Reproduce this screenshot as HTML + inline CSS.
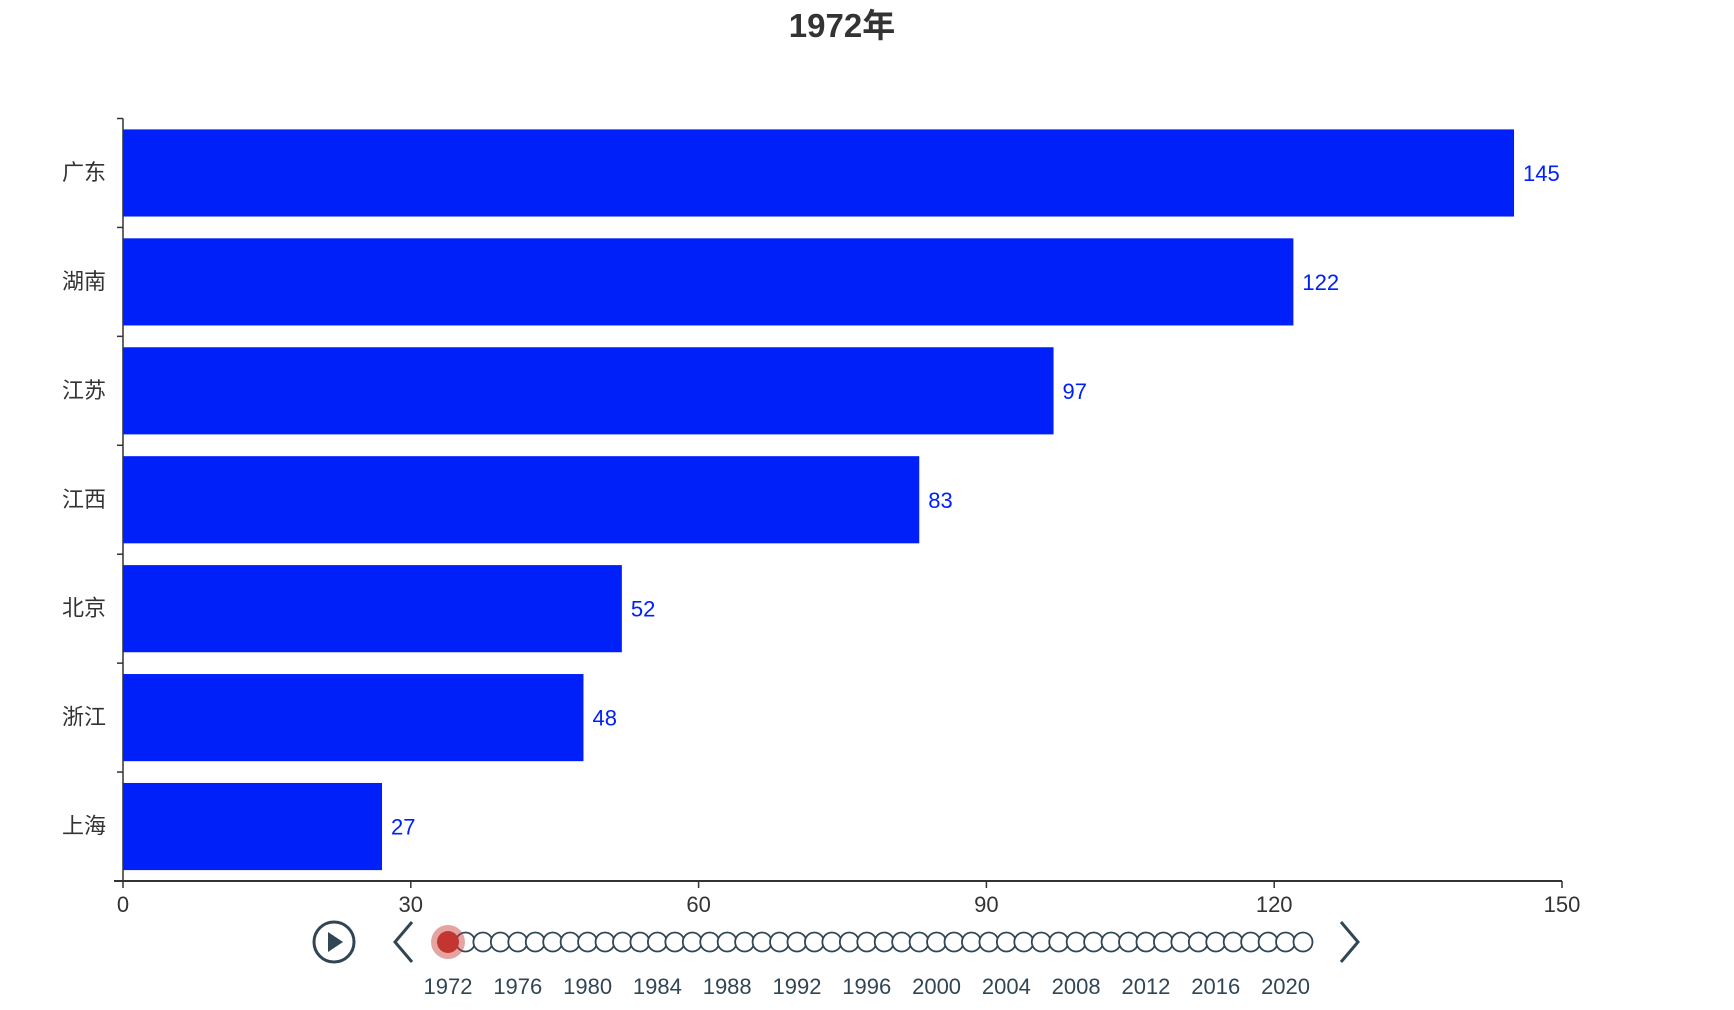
<!DOCTYPE html>
<html><head><meta charset="utf-8"><style>
html,body{margin:0;padding:0;background:#fff;}
svg{display:block;font-family:"Liberation Sans","Noto Sans CJK SC",sans-serif;}
</style></head><body>
<svg id="chart" width="1734" height="1010" viewBox="0 0 1734 1010" xmlns="http://www.w3.org/2000/svg">
<text x="842" y="37" text-anchor="middle" font-size="33" font-weight="bold" fill="#333">1972年</text>
<g id="bars"></g>
<g id="axes"></g>
<g id="timeline"></g>
</svg>
<script>
const categories = ["广东","湖南","江苏","江西","北京","浙江","上海"];
const values = [145,122,97,83,52,48,27];
const xTicks = [0,30,60,90,120,150];
const years = [];
for (let y = 1972; y <= 2021; y++) years.push(y);
const yearLabels = [1972,1976,1980,1984,1988,1992,1996,2000,2004,2008,2012,2016,2020];

const NS = "http://www.w3.org/2000/svg";
const X0 = 123, X1 = 1562, Y0 = 118.5, Y1 = 881, XMAX = 150;
const xs = v => X0 + (v / XMAX) * (X1 - X0);
const band = (Y1 - Y0) / categories.length;
const ys = i => Y0 + i * band;
function mk(tag, attrs, parent) {
  const e = document.createElementNS(NS, tag);
  for (const k in attrs) e.setAttribute(k, attrs[k]);
  parent.appendChild(e);
  return e;
}
const bars = document.getElementById('bars');
const axes = document.getElementById('axes');
categories.forEach((c, i) => {
  const r = mk('rect', {x: X0, y: ys(i) + band * 0.1, width: xs(values[i]) - X0, height: band * 0.8, fill: '#0020fa'}, bars);
  
  
  const t = mk('text', {x: xs(values[i]) + 9, y: ys(i) + band / 2 + 8, 'font-size': 22, fill: '#0020fa'}, bars);
  t.textContent = values[i];
  
  
  const l = mk('text', {x: 106, y: ys(i) + band / 2 + 7, 'font-size': 22, fill: '#333', 'text-anchor': 'end'}, axes);
  l.textContent = c;
  
  
});
for (let i = 0; i <= categories.length; i++) {
  const tk = mk('line', {x1: X0 - 6, x2: X0, y1: ys(i), y2: ys(i), stroke: '#333', 'stroke-width': 1.5}, axes);
  
  
}
const ya = mk('line', {x1: X0, x2: X0, y1: Y0, y2: Y1, stroke: '#333', 'stroke-width': 1.5}, axes);


const xa = mk('line', {x1: X0 - 9, x2: X1, y1: Y1, y2: Y1, stroke: '#333', 'stroke-width': 2}, axes);


xTicks.forEach(v => {
  const tk = mk('line', {x1: xs(v), x2: xs(v), y1: Y1, y2: Y1 + 7, stroke: '#333', 'stroke-width': 1.5}, axes);
  
  
  const t = mk('text', {x: xs(v), y: Y1 + 31, 'font-size': 22, fill: '#333', 'text-anchor': 'middle'}, axes);
  t.textContent = v;
  
  
});
// timeline
const tl = document.getElementById('timeline');
const TY = 942, TX0 = 448, TX1 = 1303;
const tx = i => TX0 + i * (TX1 - TX0) / (years.length - 1);
const play = mk('g', {}, tl);


mk('circle', {cx: 334, cy: TY, r: 20, fill: 'none', stroke: '#304654', 'stroke-width': 3}, play);
mk('path', {d: `M328 ${TY-10} L343 ${TY} L328 ${TY+10} Z`, fill: '#304654'}, play);
const pv = mk('path', {d: `M412 ${TY-20} L395 ${TY} L412 ${TY+20}`, fill: 'none', stroke: '#304654', 'stroke-width': 3}, tl);


const nx = mk('path', {d: `M1341 ${TY-20} L1358 ${TY} L1341 ${TY+20}`, fill: 'none', stroke: '#304654', 'stroke-width': 3}, tl);


years.forEach((y, i) => {
  if (i === 0) return;
  const c = mk('circle', {cx: tx(i), cy: TY, r: 9.5, fill: '#fff', stroke: '#304654', 'stroke-width': 1.8}, tl);
  
  
});
const cur = mk('g', {}, tl);


mk('circle', {cx: tx(0), cy: TY, r: 17, fill: '#c23531', opacity: 0.45}, cur);
mk('circle', {cx: tx(0), cy: TY, r: 11, fill: '#c23531'}, cur);
yearLabels.forEach(y => {
  const i = years.indexOf(y);
  const t = mk('text', {x: tx(i), y: 994, 'font-size': 22, fill: '#304654', 'text-anchor': 'middle'}, tl);
  t.textContent = y;
  
  
});
</script>
</body></html>
